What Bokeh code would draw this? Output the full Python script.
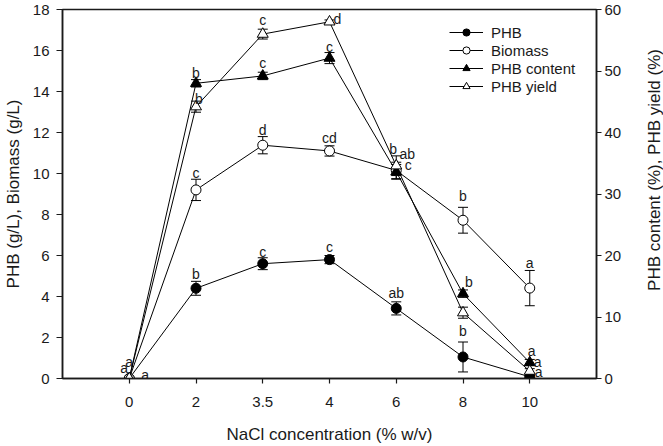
import math
from bokeh.plotting import figure
from bokeh.layouts import row
from bokeh.models import (Range1d, LinearAxis, FixedTicker, Whisker, TeeHead,
                          ColumnDataSource, Legend, LegendItem)
from bokeh.core.properties import value
from bokeh.embed import file_html
from bokeh.resources import INLINE

# ---------------- data ----------------
nacl = ["0", "2", "3.5", "4", "6", "8", "10"]
left_ticks = [0, 2, 4, 6, 8, 10, 12, 14, 16, 18]
right_ticks = [0, 10, 20, 30, 40, 50, 60]

phb = [0.0, 4.4, 5.6, 5.8, 3.42, 1.05, 0.08]
phb_err = [0.0, 0.34, 0.29, 0.2, 0.32, 0.73, 0.05]
biomass = [0.0, 9.2, 11.38, 11.1, 10.15, 7.72, 4.41]
biomass_err = [0.0, 0.52, 0.42, 0.25, 0.4, 0.63, 0.86]
content = [0.0, 48.0, 49.2, 52.1, 33.6, 13.8, 2.6]
content_err = [0.0, 0.6, 0.6, 0.9, 1.2, 0.6, 0.5]
pyield = [0.0, 44.2, 56.0, 58.0, 34.6, 10.7, 1.2]
pyield_err = [0.0, 0.9, 0.8, 0.3, 1.6, 0.9, 0.4]

phb_letters = ["a", "b", "c", "c", "ab", "b", "a"]
biomass_letters = ["a", "c", "d", "cd", "ab", "b", "a"]
content_letters = ["a", "b", "c", "c", "c", "b", "a"]
yield_letters = ["", "b", "c", "d", "b", "", "a"]

# label offsets in screen pixels (styling)
phb_off = [(16, -4), (0, -14), (0, -12), (0, -13), (0, -15), (0, -26), (9, -5)]
biomass_off = [(-5, -11), (0, -17), (0, -15), (0, -13), (11, -16), (0, -24), (0, -25)]
content_off = [(0, -17), (0, -10), (0, -13), (0, -11), (12, -7), (6, -12), (2, -12)]
yield_off = [(0, 0), (3, -8), (0, -14), (8, -3), (-3, -17), (0, 0), (8, -9)]

FONT = "Liberation Sans"
INK = "#1a1a1a"
xs = list(range(len(nacl)))

W, H = 644, 446
SIDE_W = 663 - W
BL, BR, BT, BB = 62, 48, 9, 67
p = figure(width=W, height=H, output_backend="svg", toolbar_location=None,
           x_range=Range1d(-1, len(nacl)), y_range=Range1d(0, 18),
           min_border_left=BL, min_border_right=BR, min_border_top=BT,
           min_border_bottom=BB)
p.extra_y_ranges = {"pct": Range1d(0, 60)}
p.xgrid.visible = False
p.ygrid.visible = False
p.outline_line_color = INK
p.outline_line_width = 1.5
p.background_fill_color = "white"
p.border_fill_color = "white"

def style_axis(ax):
    ax.axis_line_color = INK
    ax.axis_line_width = 1.5
    ax.major_tick_line_color = INK
    ax.major_tick_line_width = 1.2
    ax.major_tick_out = 5
    ax.major_tick_in = 0
    ax.minor_tick_line_color = None
    ax.major_label_text_font = FONT
    ax.major_label_text_font_size = "15px"
    ax.major_label_text_color = INK
    ax.axis_label_text_font = FONT
    ax.axis_label_text_font_size = "17px"
    ax.axis_label_text_font_style = "normal"
    ax.axis_label_text_color = INK

xa = p.xaxis[0]
style_axis(xa)
xa.ticker = FixedTicker(ticks=xs)
xa.major_label_overrides = {i: s for i, s in zip(xs, nacl)}
xa.major_label_standoff = 13
xa.axis_label = "NaCl concentration (% w/v)"
xa.axis_label_standoff = 15

ya = p.yaxis[0]
style_axis(ya)
ya.major_tick_out = 6
ya.ticker = FixedTicker(ticks=left_ticks)
ya.axis_label = "PHB (g/L), Biomass (g/L)"
ya.major_label_standoff = 7
ya.axis_label_standoff = 7

ra = LinearAxis(y_range_name="pct")
style_axis(ra)
ra.ticker = FixedTicker(ticks=right_ticks)
ra.major_label_standoff = 3
p.add_layout(ra, "right")

series = [
    ("PHB", phb, phb_err, phb_letters, phb_off, "default", "circle", "black", 10),
    ("Biomass", biomass, biomass_err, biomass_letters, biomass_off, "default", "circle", "white", 10),
    ("PHB content", content, content_err, content_letters, content_off, "pct", "triangle", "black", 11),
    ("PHB yield", pyield, pyield_err, yield_letters, yield_off, "pct", "triangle", "white", 11),
]

items = []
for name, vals, errs, letters, offs, rng, marker, fill, size in series:
    src = ColumnDataSource(dict(x=xs, y=vals))
    keep = [i for i in xs if errs[i] > 0]
    esrc = ColumnDataSource(dict(
        x=[xs[i] for i in keep],
        upper=[vals[i] + errs[i] for i in keep],
        lower=[vals[i] - errs[i] for i in keep]))
    w = Whisker(source=esrc, base="x", upper="upper", lower="lower",
                dimension="height", line_color="black", line_width=1,
                y_range_name=rng, level="underlay",
                upper_head=TeeHead(size=10, line_color="black", line_width=1),
                lower_head=TeeHead(size=10, line_color="black", line_width=1))
    p.add_layout(w)
    lr = p.line("x", "y", source=src, line_color="black", line_width=1,
                y_range_name=rng)
    sr = p.scatter("x", "y", source=src, marker=marker, size=size,
                   fill_color=fill, line_color="black", line_width=1,
                   y_range_name=rng)
    tsrc = ColumnDataSource(dict(x=xs, y=vals, t=letters,
                                 dx=[o[0] for o in offs], dy=[o[1] for o in offs]))
    p.text("x", "y", text="t", source=tsrc, x_offset="dx", y_offset="dy",
           text_font=value(FONT), text_font_size="14px", text_color=INK,
           text_align="center", text_baseline="middle", y_range_name=rng)
    items.append(LegendItem(label=name, renderers=[lr, sr]))

legend = Legend(items=items, location=(387, 283))
legend.border_line_color = None
legend.background_fill_alpha = 0
legend.label_text_font = FONT
legend.label_text_font_size = "15px"
legend.label_text_color = INK
legend.glyph_width = 34
legend.glyph_height = 18
legend.label_height = 18
legend.spacing = 0
legend.padding = 5
legend.label_standoff = 8
legend.margin = 0
p.add_layout(legend)

# narrow strip on the right carrying the right-axis title (reads bottom-to-top)
side = figure(width=SIDE_W, height=H, output_backend="svg", toolbar_location=None,
              x_range=Range1d(0, SIDE_W), y_range=Range1d(0, H),
              x_axis_type=None, y_axis_type=None,
              min_border_left=0, min_border_right=0, min_border_top=0,
              min_border_bottom=0)
side.xgrid.visible = False
side.ygrid.visible = False
side.outline_line_color = None
side.border_fill_color = "white"
side.background_fill_color = "white"
side.text(x=[SIDE_W / 2], y=[H - (BT + (H - BB)) / 2],
          text=["PHB content (%), PHB yield (%)"],
          text_font=value(FONT), text_font_size="17px", text_color=INK,
          angle=math.pi / 2, text_align="center", text_baseline="middle")

layout = row(p, side, spacing=0)
open("out.html", "w").write(file_html(layout, INLINE))
